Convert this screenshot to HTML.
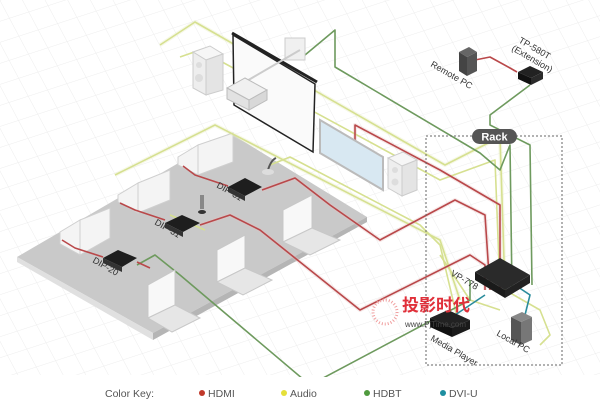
<!DOCTYPE html>
<html><head><meta charset="utf-8"><style>
html,body{margin:0;padding:0;background:#fff;}
svg{display:block;}
text{font-family:"Liberation Sans","Noto Sans CJK SC",sans-serif;}
</style></head><body>
<svg width="600" height="413" viewBox="0 0 600 413" xmlns="http://www.w3.org/2000/svg">
<defs>
<pattern id="g1" width="20" height="20" patternUnits="userSpaceOnUse" patternTransform="rotate(-18)">
<path d="M0 0H20" stroke="#ededed" stroke-width="1"/>
</pattern>
<pattern id="g2" width="20" height="20" patternUnits="userSpaceOnUse" patternTransform="rotate(62)">
<path d="M0 0H20" stroke="#ededed" stroke-width="1"/>
</pattern>
</defs>
<rect width="600" height="413" fill="#fff"/>
<rect width="600" height="375" fill="url(#g1)"/>
<rect width="600" height="375" fill="url(#g2)"/>

<!-- floor -->
<polygon points="17,257 230,133 367,217 153,333" fill="#c9c9c9"/>
<polygon points="17,257 153,333 153,340 17,262" fill="#e0e0e0"/>
<polygon points="153,333 367,217 367,222 153,340" fill="#b5b5b5"/>

<!-- whiteboards -->
<g fill="#f4f4f4" stroke="#cfcfcf" stroke-width="1">
<polygon points="60,232 80,220 80,255 60,244"/><polygon points="80,220 110,208 110,238 80,255"/>
<polygon points="118,195 138,183 138,213 118,202"/><polygon points="138,183 170,170 170,200 138,213"/>
<polygon points="178,157 198,145 198,175 178,165"/><polygon points="198,145 233,133 233,162 198,175"/>
</g>

<!-- cable halos -->
<g fill="none" stroke-width="4" stroke-linejoin="round" opacity="0.35">
<polyline stroke="#e8edc0" points="160,45 195,22 445,165 500,137 505,290"/>
<polyline stroke="#e8edc0" points="115,175 215,125 440,240 460,300"/>
<polyline stroke="#e8c0c0" points="355,165 355,125 440,170 500,205 500,290"/>
<polyline stroke="#e8c0c0" points="262,190 295,178 330,205 380,240 455,200 485,215 490,290"/>
<polyline stroke="#e8c0c0" points="200,225 230,215 260,230 360,310 470,255 485,265 485,290"/>
</g>
<!-- cables: audio -->
<g fill="none" stroke-width="1.6" stroke-linejoin="round">
<polyline stroke="#d6e090" points="160,45 195,22 445,165 500,137 505,290"/>
<polyline stroke="#d6e090" points="115,175 215,125 440,240 460,300"/>
<polyline stroke="#d6e090" points="270,165 290,157 420,225 440,245 460,330"/>
<polyline stroke="#d6e090" points="180,57 200,50 440,180 495,160 500,290"/>
<polyline stroke="#d6e090" points="505,290 540,310 550,335 540,345"/>
<polyline stroke="#d6e090" points="440,255 470,300 500,310"/>
<polyline stroke="#d6e090" points="170,215 205,230"/>
</g>
<!-- HDBT -->
<g fill="none" stroke="#6e9a5e" stroke-width="1.6" stroke-linejoin="round">
<polyline points="305,55 335,30 335,67 480,153 500,170 510,145 512,290"/>
<polyline points="530,85 490,115 490,125 530,145 532,285"/>
<polyline points="137,265 155,255 180,275 310,385 470,300 470,280"/>
</g>
<!-- HDMI -->
<g fill="none" stroke="#b9484a" stroke-width="1.6" stroke-linejoin="round">
<polyline points="355,165 355,125 440,170 500,205 500,290"/>
<polyline points="262,190 295,178 330,205 380,240 455,200 485,215 490,290"/>
<polyline points="200,225 230,215 260,230 360,310 470,255 485,265 485,290"/>
<polyline points="62,240 75,248 103,257"/>
<polyline points="120,203 135,210 165,220"/>
<polyline points="183,166 195,175 228,186"/>
<polyline points="137,262 150,268"/>
<polyline points="475,60 490,57 510,68 517,72"/>
</g>
<!-- DVI -->
<g fill="none" stroke="#2b8c9c" stroke-width="1.6">
<polyline points="455,315 470,305 485,295"/>
<polyline points="515,285 530,295 525,315"/>
</g>

<!-- laptops -->
<g stroke="#c8c8c8" stroke-width="1">
<polygon points="148,285 175,270 175,305 148,318" fill="#f8f8f8"/>
<polygon points="148,318 175,305 200,318 172,332" fill="#e6e6e6"/>
<polygon points="217,250 245,235 245,268 217,282" fill="#f8f8f8"/>
<polygon points="217,282 245,268 272,280 243,295" fill="#e6e6e6"/>
<polygon points="283,210 312,195 312,228 283,242" fill="#f8f8f8"/>
<polygon points="283,242 312,228 340,240 310,255" fill="#e6e6e6"/>
</g>

<!-- DIP boxes -->
<g fill="#1e1e1e">
<polygon points="103,258 118,250 137,258 122,267"/>
<polygon points="103,258 122,267 122,272 103,263" fill="#333"/>
<polygon points="165,223 182,215 200,223 183,232"/>
<polygon points="165,223 183,232 183,237 165,228" fill="#333"/>
<polygon points="228,187 245,178 262,187 245,196"/>
<polygon points="228,187 245,196 245,201 228,192" fill="#333"/>
</g>
<g font-size="9" fill="#333">
<text transform="translate(92,262) rotate(30)">DIP-20</text>
<text transform="translate(154,224) rotate(30)">DIP-31</text>
<text transform="translate(216,187) rotate(30)">DIP-31</text>
</g>
<!-- mics -->
<rect x="200" y="195" width="4" height="14" fill="#888"/><ellipse cx="202" cy="212" rx="4" ry="2" fill="#333"/>
<path d="M268 170 q3 -10 8 -12" stroke="#555" stroke-width="2" fill="none"/><ellipse cx="268" cy="172" rx="6" ry="3" fill="#ddd"/>

<!-- screen -->
<polygon points="233,35 315,84 313,152 234,105" fill="#fafafa" stroke="#222" stroke-width="1.5"/>
<line x1="232" y1="33" x2="317" y2="82" stroke="#222" stroke-width="3"/>
<!-- wall plate + projector -->
<rect x="285" y="38" width="20" height="22" fill="#f0f0f0" stroke="#ccc"/>
<line x1="300" y1="50" x2="245" y2="82" stroke="#ccc" stroke-width="2"/>
<polygon points="227,88 245,78 267,90 249,100" fill="#f0f0f0" stroke="#bbb"/>
<polygon points="227,88 249,100 249,110 227,99" fill="#e2e2e2" stroke="#bbb"/>
<polygon points="249,100 267,90 267,100 249,110" fill="#d8d8d8" stroke="#bbb"/>
<!-- speakers -->
<g stroke="#ccc">
<polygon points="193,52 210,46 223,54 206,60" fill="#f6f6f6"/>
<polygon points="193,52 206,60 206,95 193,88" fill="#eee"/>
<polygon points="206,60 223,54 223,90 206,95" fill="#e4e4e4"/>
<polygon points="388,158 403,152 417,160 402,166" fill="#f6f6f6"/>
<polygon points="388,158 402,166 402,196 388,188" fill="#eee"/>
<polygon points="402,166 417,160 417,190 402,196" fill="#e4e4e4"/>
</g>
<circle cx="199" cy="65" r="3" fill="#ddd"/><circle cx="199" cy="78" r="4" fill="#ddd"/>
<circle cx="395" cy="170" r="3" fill="#ddd"/><circle cx="395" cy="182" r="3.5" fill="#ddd"/>
<!-- TV -->
<polygon points="320,120 383,157 383,190 320,153" fill="#d8e8f2" stroke="#bbb" stroke-width="2"/>

<!-- rack -->
<polyline points="472,136 426,136 426,365 562,365 562,136 517,136" fill="none" stroke="#666" stroke-dasharray="2,2" stroke-width="1"/>
<rect x="472" y="129" width="45" height="15" rx="7.5" fill="#555"/>
<text x="494.5" y="140.5" font-size="11" font-weight="bold" fill="#fff" text-anchor="middle">Rack</text>

<!-- remote PC + TP-580T -->
<polygon points="459,52 469,47 477,52 467,57" fill="#666"/>
<polygon points="459,52 467,57 467,76 459,71" fill="#444"/>
<polygon points="467,57 477,52 477,71 467,76" fill="#555"/>
<polygon points="518,72 530,66 543,72 531,78" fill="#222"/>
<polygon points="518,72 531,78 531,85 518,79" fill="#111"/>
<polygon points="531,78 543,72 543,79 531,85" fill="#2a2a2a"/>
<g font-size="9" fill="#333">
<text transform="translate(430,66) rotate(30)">Remote PC</text>
<text transform="translate(518,42) rotate(30)">TP-580T</text>
<text transform="translate(511,50) rotate(30)">(Extension)</text>
</g>

<!-- VP-778 -->
<polygon points="475,272 500,258 530,275 505,290" fill="#2a2a2a"/>
<polygon points="475,272 505,290 505,298 475,280" fill="#1a1a1a"/>
<polygon points="505,290 530,275 530,283 505,298" fill="#222"/>
<text transform="translate(450,275) rotate(30)" font-size="9" fill="#333">VP-778</text>
<!-- media player -->
<polygon points="430,318 448,310 470,320 452,328" fill="#222"/>
<polygon points="430,318 452,328 452,337 430,327" fill="#111"/>
<polygon points="452,328 470,320 470,329 452,337" fill="#1a1a1a"/>
<text transform="translate(430,340) rotate(30)" font-size="9" fill="#333">Media Player</text>
<!-- local PC -->
<polygon points="511,317 522,312 532,317 521,322" fill="#888"/>
<polygon points="511,317 521,322 521,345 511,340" fill="#555"/>
<polygon points="521,322 532,317 532,340 521,345" fill="#777"/>
<text transform="translate(496,335) rotate(30)" font-size="9" fill="#333">Local PC</text>

<!-- watermark -->
<circle cx="385" cy="312" r="12" fill="none" stroke="#f0a0a0" stroke-dasharray="1,2" stroke-width="3"/>
<text x="402" y="311" font-size="17" font-weight="bold" fill="#e0303a" font-family="'Noto Sans CJK SC',sans-serif">投影时代</text>
<text x="405" y="327" font-size="8" fill="#444">www.PjTime.com</text>

<!-- legend -->
<rect x="0" y="377" width="600" height="36" fill="#fff"/>
<g font-size="10.5" fill="#555">
<text x="105" y="397">Color Key:</text>
<circle cx="202" cy="393" r="3" fill="#c0392b"/><text x="208" y="397">HDMI</text>
<circle cx="284" cy="393" r="3" fill="#e5e03a"/><text x="290" y="397">Audio</text>
<circle cx="367" cy="393" r="3" fill="#4f9a3e"/><text x="373" y="397">HDBT</text>
<circle cx="443" cy="393" r="3" fill="#1e8ea0"/><text x="449" y="397">DVI-U</text>
</g>
</svg>
</body></html>
